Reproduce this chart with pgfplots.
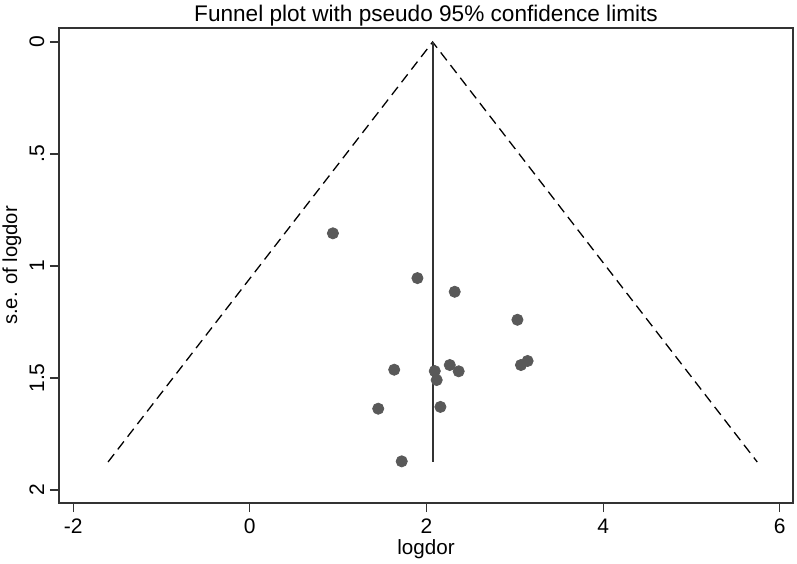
\documentclass[border=0pt]{standalone}
\usepackage{pgfplots}
\pgfplotsset{compat=1.18}
\usepackage{fontspec}
\setmainfont{Liberation Sans}
\definecolor{dotgray}{HTML}{595959}
\definecolor{framegray}{HTML}{333333}
\begin{document}
\begin{tikzpicture}
\begin{axis}[
  name=ax,
  scale only axis,
  width=367bp, height=237.5bp,
  xmin=-2.16, xmax=6.15,
  ymin=-0.0625, ymax=2.058,
  y dir=reverse,
  axis line style={framegray, line width=0.7bp},
  tick align=outside,
  major tick length=4.5bp,
  tick style={framegray, line width=0.6bp},
  xtick={-2,0,2,4,6},
  xticklabels={-2,0,2,4,6},
  ytick={0,0.5,1,1.5,2},
  yticklabels={0,.5,1,1.5,2},
  xtick pos=bottom, ytick pos=left,
  /pgf/number format/assume math mode=true,
  ticklabel style={font=\fontsize{10.5bp}{12bp}\selectfont},
  yticklabel style={rotate=90, anchor=base, yshift=3bp},
  xticklabel style={yshift=-10.5bp, anchor=base},
  title={Funnel plot with pseudo 95\% confidence limits},
  title style={at={(0.5,1)}, anchor=base, yshift=-2.75bp, font=\fontsize{11.3bp}{13bp}\selectfont},
  xlabel={logdor},
  xlabel style={at={(axis description cs:0.5,0)}, anchor=base, yshift=-25.5bp, font=\fontsize{10.3bp}{12bp}\selectfont},
  ylabel={s.e. of logdor},
  ylabel style={at={(axis description cs:0,0.5)}, anchor=base, yshift=21bp, font=\fontsize{10.1bp}{12bp}\selectfont},
]
\addplot[black, dash pattern=on 5bp off 3bp, line width=0.65bp] coordinates {(-1.605,1.875) (2.07,0) (5.745,1.875)};
\addplot[framegray, line width=1bp] coordinates {(2.07,0) (2.07,1.875)};
\addplot[only marks, mark=*, mark size=2.8bp, mark options={fill=dotgray, draw=dotgray}] coordinates {
(0.941,0.854)
(1.898,1.054)
(2.32,1.115)
(3.03,1.240)
(3.145,1.424)
(3.07,1.442)
(1.635,1.463)
(2.094,1.469)
(2.264,1.442)
(2.365,1.470)
(2.116,1.509)
(2.158,1.629)
(1.454,1.637)
(1.72,1.872)
};
\end{axis}
\pgfresetboundingbox
\path ([shift={(-29.5bp,-30.5bp)}]ax.south west) rectangle ([shift={(2bp,14bp)}]ax.north east);
\end{tikzpicture}
\end{document}
